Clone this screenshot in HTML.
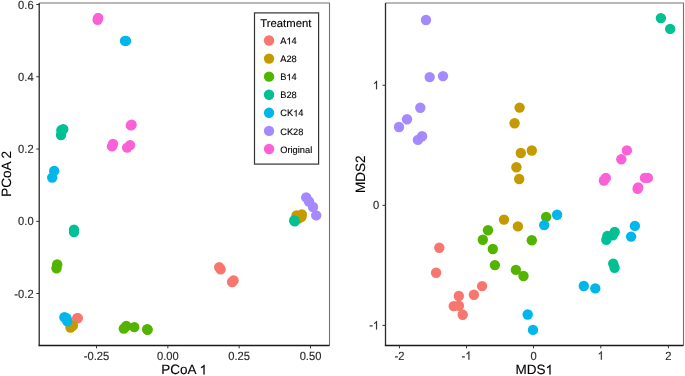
<!DOCTYPE html>
<html><head><meta charset="utf-8"><title>PCoA and NMDS plots</title>
<style>
html,body{margin:0;padding:0;background:#fff;width:685px;height:376px;overflow:hidden}
svg{display:block;will-change:transform}
text{font-family:"Liberation Sans",sans-serif;text-rendering:geometricPrecision}
.tk{font-size:11.4px;fill:#2b2b2b;stroke:#2b2b2b;stroke-width:0.15px}
.ti{font-size:13.5px;fill:#000;stroke:#000;stroke-width:0.12px}
.lt{font-size:11.3px;fill:#000;stroke:#000;stroke-width:0.12px}
.ll{font-size:9.3px;fill:#000;stroke:#000;stroke-width:0.12px}
.o1{fill-opacity:0;stroke-opacity:0}
</style></head>
<body>
<svg width="685" height="376" viewBox="0 0 685 376">
<rect width="685" height="376" fill="#fff"/>
<path d="M39.3 3.0H329.5V345.5" fill="none" stroke="#727272" stroke-width="1.1"/>
<circle cx="219.2" cy="267.3" r="5.2" fill="#F8766D"/>
<circle cx="220.6" cy="269.3" r="5.2" fill="#F8766D"/>
<circle cx="233.6" cy="280.4" r="5.2" fill="#F8766D"/>
<circle cx="232.1" cy="282.0" r="5.2" fill="#F8766D"/>
<circle cx="77.2" cy="318.2" r="5.2" fill="#F8766D"/>
<circle cx="77.8" cy="318.1" r="5.2" fill="#F8766D"/>
<circle cx="296.5" cy="215.5" r="5.2" fill="#C49A00"/>
<circle cx="301.8" cy="214.4" r="5.2" fill="#C49A00"/>
<circle cx="301.5" cy="216.8" r="5.2" fill="#C49A00"/>
<circle cx="298.5" cy="218.5" r="5.2" fill="#C49A00"/>
<circle cx="70.5" cy="327.6" r="5.2" fill="#C49A00"/>
<circle cx="72.9" cy="325.5" r="5.2" fill="#C49A00"/>
<circle cx="57.2" cy="264.4" r="5.2" fill="#53B400"/>
<circle cx="56.5" cy="268.2" r="5.2" fill="#53B400"/>
<circle cx="123.8" cy="328.6" r="5.2" fill="#53B400"/>
<circle cx="126.3" cy="326.0" r="5.2" fill="#53B400"/>
<circle cx="134.3" cy="327.1" r="5.2" fill="#53B400"/>
<circle cx="147.2" cy="329.2" r="5.2" fill="#53B400"/>
<circle cx="147.6" cy="329.7" r="5.2" fill="#53B400"/>
<circle cx="63.2" cy="129.2" r="5.2" fill="#00C094"/>
<circle cx="61.4" cy="130.3" r="5.2" fill="#00C094"/>
<circle cx="61.0" cy="135.0" r="5.2" fill="#00C094"/>
<circle cx="74.0" cy="229.8" r="5.2" fill="#00C094"/>
<circle cx="74.0" cy="232.1" r="5.2" fill="#00C094"/>
<circle cx="294.2" cy="220.5" r="5.2" fill="#00C094"/>
<circle cx="294.8" cy="221.2" r="5.2" fill="#00C094"/>
<circle cx="125.0" cy="40.9" r="5.2" fill="#00B6EB"/>
<circle cx="126.0" cy="40.9" r="5.2" fill="#00B6EB"/>
<circle cx="54.2" cy="170.9" r="5.2" fill="#00B6EB"/>
<circle cx="52.2" cy="177.6" r="5.2" fill="#00B6EB"/>
<circle cx="64.4" cy="317.2" r="5.2" fill="#00B6EB"/>
<circle cx="66.5" cy="318.3" r="5.2" fill="#00B6EB"/>
<circle cx="67.3" cy="321.2" r="5.2" fill="#00B6EB"/>
<circle cx="306.2" cy="197.4" r="5.2" fill="#A58AFF"/>
<circle cx="309.0" cy="201.5" r="5.2" fill="#A58AFF"/>
<circle cx="313.0" cy="207.0" r="5.2" fill="#A58AFF"/>
<circle cx="316.2" cy="215.4" r="5.2" fill="#A58AFF"/>
<circle cx="97.6" cy="19.8" r="5.2" fill="#FB61D7"/>
<circle cx="98.2" cy="18.0" r="5.2" fill="#FB61D7"/>
<circle cx="130.8" cy="125.4" r="5.2" fill="#FB61D7"/>
<circle cx="131.6" cy="124.8" r="5.2" fill="#FB61D7"/>
<circle cx="113.0" cy="143.9" r="5.2" fill="#FB61D7"/>
<circle cx="112.0" cy="146.4" r="5.2" fill="#FB61D7"/>
<circle cx="130.1" cy="145.1" r="5.2" fill="#FB61D7"/>
<circle cx="127.1" cy="147.6" r="5.2" fill="#FB61D7"/>
<path d="M39.25 3.0V345.5" fill="none" stroke="#444" stroke-width="1.5"/>
<path d="M38.5 345.5H329.5" fill="none" stroke="#1a1a1a" stroke-width="1.45"/>
<line x1="36.3" y1="4.50" x2="39.3" y2="4.50" stroke="#333" stroke-width="1"/>
<line x1="36.3" y1="76.75" x2="39.3" y2="76.75" stroke="#333" stroke-width="1"/>
<line x1="36.3" y1="149.00" x2="39.3" y2="149.00" stroke="#333" stroke-width="1"/>
<line x1="36.3" y1="221.40" x2="39.3" y2="221.40" stroke="#333" stroke-width="1"/>
<line x1="36.3" y1="293.50" x2="39.3" y2="293.50" stroke="#333" stroke-width="1"/>
<line x1="96.50" y1="345.5" x2="96.50" y2="348.3" stroke="#333" stroke-width="1"/>
<line x1="167.83" y1="345.5" x2="167.83" y2="348.3" stroke="#333" stroke-width="1"/>
<line x1="239.16" y1="345.5" x2="239.16" y2="348.3" stroke="#333" stroke-width="1"/>
<line x1="310.50" y1="345.5" x2="310.50" y2="348.3" stroke="#333" stroke-width="1"/>
<rect x="254.5" y="12.9" width="64.1" height="151.2" fill="#fff" stroke="#333" stroke-width="1.2"/>
<circle cx="269.05" cy="40.50" r="5.2" fill="#F8766D"/>
<circle cx="269.05" cy="58.58" r="5.2" fill="#C49A00"/>
<circle cx="269.05" cy="76.66" r="5.2" fill="#53B400"/>
<circle cx="269.05" cy="94.74" r="5.2" fill="#00C094"/>
<circle cx="269.05" cy="112.82" r="5.2" fill="#00B6EB"/>
<circle cx="269.05" cy="130.90" r="5.2" fill="#A58AFF"/>
<circle cx="269.05" cy="148.98" r="5.2" fill="#FB61D7"/>
<path d="M385.5 3.0H683.5V345.5" fill="none" stroke="#727272" stroke-width="1.1"/>
<circle cx="439.3" cy="247.8" r="5.2" fill="#F8766D"/>
<circle cx="436.1" cy="272.7" r="5.2" fill="#F8766D"/>
<circle cx="482.1" cy="286.1" r="5.2" fill="#F8766D"/>
<circle cx="473.9" cy="294.8" r="5.2" fill="#F8766D"/>
<circle cx="458.8" cy="296.0" r="5.2" fill="#F8766D"/>
<circle cx="453.7" cy="306.1" r="5.2" fill="#F8766D"/>
<circle cx="458.9" cy="305.8" r="5.2" fill="#F8766D"/>
<circle cx="462.7" cy="314.8" r="5.2" fill="#F8766D"/>
<circle cx="519.6" cy="107.6" r="5.2" fill="#C49A00"/>
<circle cx="514.6" cy="123.2" r="5.2" fill="#C49A00"/>
<circle cx="531.8" cy="150.5" r="5.2" fill="#C49A00"/>
<circle cx="520.8" cy="153.0" r="5.2" fill="#C49A00"/>
<circle cx="516.4" cy="167.3" r="5.2" fill="#C49A00"/>
<circle cx="519.2" cy="179.0" r="5.2" fill="#C49A00"/>
<circle cx="504.0" cy="219.6" r="5.2" fill="#C49A00"/>
<circle cx="517.9" cy="226.4" r="5.2" fill="#C49A00"/>
<circle cx="488.0" cy="230.3" r="5.2" fill="#53B400"/>
<circle cx="482.8" cy="239.7" r="5.2" fill="#53B400"/>
<circle cx="492.8" cy="249.0" r="5.2" fill="#53B400"/>
<circle cx="494.9" cy="265.1" r="5.2" fill="#53B400"/>
<circle cx="515.9" cy="269.9" r="5.2" fill="#53B400"/>
<circle cx="523.5" cy="276.0" r="5.2" fill="#53B400"/>
<circle cx="531.8" cy="240.3" r="5.2" fill="#53B400"/>
<circle cx="546.1" cy="216.9" r="5.2" fill="#53B400"/>
<circle cx="660.9" cy="18.1" r="5.2" fill="#00C094"/>
<circle cx="670.2" cy="28.9" r="5.2" fill="#00C094"/>
<circle cx="614.7" cy="232.0" r="5.2" fill="#00C094"/>
<circle cx="612.8" cy="235.2" r="5.2" fill="#00C094"/>
<circle cx="607.4" cy="236.0" r="5.2" fill="#00C094"/>
<circle cx="606.3" cy="239.9" r="5.2" fill="#00C094"/>
<circle cx="613.2" cy="263.6" r="5.2" fill="#00C094"/>
<circle cx="614.6" cy="267.8" r="5.2" fill="#00C094"/>
<circle cx="544.2" cy="225.1" r="5.2" fill="#00B6EB"/>
<circle cx="557.1" cy="214.8" r="5.2" fill="#00B6EB"/>
<circle cx="527.7" cy="314.5" r="5.2" fill="#00B6EB"/>
<circle cx="533.0" cy="329.9" r="5.2" fill="#00B6EB"/>
<circle cx="583.8" cy="286.0" r="5.2" fill="#00B6EB"/>
<circle cx="595.3" cy="288.4" r="5.2" fill="#00B6EB"/>
<circle cx="634.9" cy="225.9" r="5.2" fill="#00B6EB"/>
<circle cx="631.1" cy="236.6" r="5.2" fill="#00B6EB"/>
<circle cx="426.0" cy="19.95" r="5.2" fill="#A58AFF"/>
<circle cx="429.7" cy="77.1" r="5.2" fill="#A58AFF"/>
<circle cx="443.0" cy="76.1" r="5.2" fill="#A58AFF"/>
<circle cx="420.3" cy="107.7" r="5.2" fill="#A58AFF"/>
<circle cx="407.0" cy="119.3" r="5.2" fill="#A58AFF"/>
<circle cx="399.0" cy="127.0" r="5.2" fill="#A58AFF"/>
<circle cx="422.1" cy="136.2" r="5.2" fill="#A58AFF"/>
<circle cx="417.9" cy="139.9" r="5.2" fill="#A58AFF"/>
<circle cx="626.9" cy="150.4" r="5.2" fill="#FB61D7"/>
<circle cx="621.3" cy="159.2" r="5.2" fill="#FB61D7"/>
<circle cx="605.8" cy="178.0" r="5.2" fill="#FB61D7"/>
<circle cx="603.9" cy="180.5" r="5.2" fill="#FB61D7"/>
<circle cx="644.9" cy="177.9" r="5.2" fill="#FB61D7"/>
<circle cx="647.9" cy="177.9" r="5.2" fill="#FB61D7"/>
<circle cx="638.2" cy="187.4" r="5.2" fill="#FB61D7"/>
<circle cx="637.6" cy="188.7" r="5.2" fill="#FB61D7"/>
<path d="M385.5 3.0V345.5" fill="none" stroke="#2a2a2a" stroke-width="1.3"/>
<path d="M384.85 345.5H683.5" fill="none" stroke="#1a1a1a" stroke-width="1.45"/>
<line x1="382.5" y1="85.28" x2="385.5" y2="85.28" stroke="#333" stroke-width="1"/>
<line x1="382.5" y1="205.35" x2="385.5" y2="205.35" stroke="#333" stroke-width="1"/>
<line x1="382.5" y1="325.42" x2="385.5" y2="325.42" stroke="#333" stroke-width="1"/>
<line x1="399.45" y1="345.5" x2="399.45" y2="348.3" stroke="#333" stroke-width="1"/>
<line x1="466.50" y1="345.5" x2="466.50" y2="348.3" stroke="#333" stroke-width="1"/>
<line x1="533.50" y1="345.5" x2="533.50" y2="348.3" stroke="#333" stroke-width="1"/>
<line x1="600.75" y1="345.5" x2="600.75" y2="348.3" stroke="#333" stroke-width="1"/>
<line x1="668.40" y1="345.5" x2="668.40" y2="348.3" stroke="#333" stroke-width="1"/>
<g>
<text transform="translate(33.6 8.50) scale(0.98 1.035)" text-anchor="end" class="tk">0.6</text>
<text transform="translate(33.6 80.75) scale(0.98 1.035)" text-anchor="end" class="tk">0.4</text>
<text transform="translate(33.6 153.00) scale(0.98 1.035)" text-anchor="end" class="tk">0.2</text>
<text transform="translate(33.6 225.40) scale(0.98 1.035)" text-anchor="end" class="tk">0.0</text>
<text transform="translate(33.6 297.50) scale(0.98 1.035)" text-anchor="end" class="tk">-0.2</text>
<text transform="translate(96.50 359.8) scale(0.98 1.035)" text-anchor="middle" class="tk">-0.25</text>
<text transform="translate(167.83 359.8) scale(0.98 1.035)" text-anchor="middle" class="tk">0.00</text>
<text transform="translate(239.16 359.8) scale(0.98 1.035)" text-anchor="middle" class="tk">0.25</text>
<text transform="translate(310.50 359.8) scale(0.98 1.035)" text-anchor="middle" class="tk">0.50</text>
<text x="184.2" y="374.4" text-anchor="middle" class="ti">PCoA <tspan class="o1">1</tspan></text>
<text transform="translate(11.2 173.8) rotate(-90)" text-anchor="middle" class="ti">PCoA 2</text>
<text x="260.3" y="26.9" class="lt">Treatment</text>
<text x="280.2" y="44.15" class="ll">A<tspan class="o1">1</tspan>4</text>
<text x="280.2" y="62.23" class="ll">A28</text>
<text x="280.2" y="80.31" class="ll">B<tspan class="o1">1</tspan>4</text>
<text x="280.2" y="98.39" class="ll">B28</text>
<text x="280.2" y="116.47" class="ll">CK<tspan class="o1">1</tspan>4</text>
<text x="280.2" y="134.55" class="ll">CK28</text>
<text x="280.2" y="152.63" class="ll">Original</text>
<text transform="translate(379.1 89.33) scale(0.98 1.035)" text-anchor="end" class="tk"><tspan class="o1">1</tspan></text>
<text transform="translate(379.1 209.40) scale(0.98 1.035)" text-anchor="end" class="tk">0</text>
<text transform="translate(379.1 329.47) scale(0.98 1.035)" text-anchor="end" class="tk">-<tspan class="o1">1</tspan></text>
<text transform="translate(399.45 359.8) scale(0.98 1.035)" text-anchor="middle" class="tk">-2</text>
<text transform="translate(466.50 359.8) scale(0.98 1.035)" text-anchor="middle" class="tk">-<tspan class="o1">1</tspan></text>
<text transform="translate(533.50 359.8) scale(0.98 1.035)" text-anchor="middle" class="tk">0</text>
<text transform="translate(600.75 359.8) scale(0.98 1.035)" text-anchor="middle" class="tk"><tspan class="o1">1</tspan></text>
<text transform="translate(668.40 359.8) scale(0.98 1.035)" text-anchor="middle" class="tk">2</text>
<text x="534.3" y="374.4" text-anchor="middle" class="ti">MDS<tspan class="o1">1</tspan></text>
<text transform="translate(365.4 174.3) rotate(-90)" text-anchor="middle" class="ti">MDS2</text>
</g>
<path d="M0.3726 0H0.2847V-0.560Q0.253 -0.530 0.201 -0.4995T0.1084 -0.454V-0.539Q0.182 -0.5737 0.2373 -0.623T0.3154 -0.71875H0.3726Z" transform="translate(199.58 374.40) scale(13.5)" fill="rgb(0, 0, 0)" stroke="rgb(0, 0, 0)" stroke-width="0.0089"/>
<path d="M0.3726 0H0.2847V-0.560Q0.253 -0.530 0.201 -0.4995T0.1084 -0.454V-0.539Q0.182 -0.5737 0.2373 -0.623T0.3154 -0.71875H0.3726Z" transform="translate(286.40 44.15) scale(9.3)" fill="rgb(0, 0, 0)" stroke="rgb(0, 0, 0)" stroke-width="0.0129"/>
<path d="M0.3726 0H0.2847V-0.560Q0.253 -0.530 0.201 -0.4995T0.1084 -0.454V-0.539Q0.182 -0.5737 0.2373 -0.623T0.3154 -0.71875H0.3726Z" transform="translate(286.40 80.31) scale(9.3)" fill="rgb(0, 0, 0)" stroke="rgb(0, 0, 0)" stroke-width="0.0129"/>
<path d="M0.3726 0H0.2847V-0.560Q0.253 -0.530 0.201 -0.4995T0.1084 -0.454V-0.539Q0.182 -0.5737 0.2373 -0.623T0.3154 -0.71875H0.3726Z" transform="translate(293.12 116.47) scale(9.3)" fill="rgb(0, 0, 0)" stroke="rgb(0, 0, 0)" stroke-width="0.0129"/>
<path d="M0.3726 0H0.2847V-0.560Q0.253 -0.530 0.201 -0.4995T0.1084 -0.454V-0.539Q0.182 -0.5737 0.2373 -0.623T0.3154 -0.71875H0.3726Z" transform="translate(379.1 89.33) scale(0.98 1.035) translate(-6.34 0.00) scale(11.4)" fill="rgb(43, 43, 43)" stroke="rgb(43, 43, 43)" stroke-width="0.0132"/>
<path d="M0.3726 0H0.2847V-0.560Q0.253 -0.530 0.201 -0.4995T0.1084 -0.454V-0.539Q0.182 -0.5737 0.2373 -0.623T0.3154 -0.71875H0.3726Z" transform="translate(379.1 329.47) scale(0.98 1.035) translate(-6.34 0.00) scale(11.4)" fill="rgb(43, 43, 43)" stroke="rgb(43, 43, 43)" stroke-width="0.0132"/>
<path d="M0.3726 0H0.2847V-0.560Q0.253 -0.530 0.201 -0.4995T0.1084 -0.454V-0.539Q0.182 -0.5737 0.2373 -0.623T0.3154 -0.71875H0.3726Z" transform="translate(466.50 359.8) scale(0.98 1.035) translate(-1.27 0.00) scale(11.4)" fill="rgb(43, 43, 43)" stroke="rgb(43, 43, 43)" stroke-width="0.0132"/>
<path d="M0.3726 0H0.2847V-0.560Q0.253 -0.530 0.201 -0.4995T0.1084 -0.454V-0.539Q0.182 -0.5737 0.2373 -0.623T0.3154 -0.71875H0.3726Z" transform="translate(600.75 359.8) scale(0.98 1.035) translate(-3.17 0.00) scale(11.4)" fill="rgb(43, 43, 43)" stroke="rgb(43, 43, 43)" stroke-width="0.0132"/>
<path d="M0.3726 0H0.2847V-0.560Q0.253 -0.530 0.201 -0.4995T0.1084 -0.454V-0.539Q0.182 -0.5737 0.2373 -0.623T0.3154 -0.71875H0.3726Z" transform="translate(545.54 374.40) scale(13.5)" fill="rgb(0, 0, 0)" stroke="rgb(0, 0, 0)" stroke-width="0.0089"/>
</svg>
</body></html>
